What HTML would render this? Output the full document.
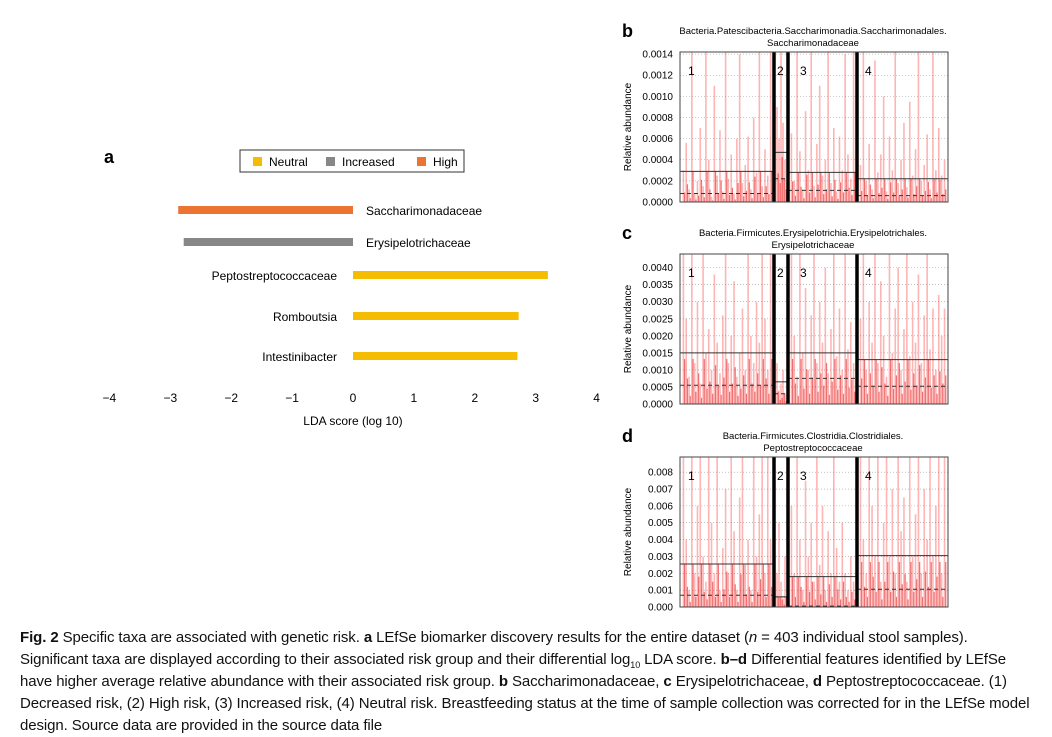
<!DOCTYPE html>
<html><head><meta charset="utf-8"><style>
body{margin:0;width:1052px;height:735px;background:#fff;overflow:hidden;font-family:"Liberation Sans",sans-serif;position:relative}
svg{position:absolute;left:0;top:0}
.cap{position:absolute;left:20px;top:627px;font-size:15px;line-height:22px;color:#111;white-space:nowrap;letter-spacing:-0.1px}
.cap div{height:22px}
</style></head><body>
<svg id="fig" width="1052" height="735"></svg>
<div class="cap">
<div><b>Fig. 2</b> Specific taxa are associated with genetic risk. <b>a</b> LEfSe biomarker discovery results for the entire dataset (<i>n</i> = 403 individual stool samples).</div>
<div>Significant taxa are displayed according to their associated risk group and their differential log<sub style="font-size:9px">10</sub> LDA score. <b>b–d</b> Differential features identified by LEfSe</div>
<div>have higher average relative abundance with their associated risk group. <b>b</b> Saccharimonadaceae, <b>c</b> Erysipelotrichaceae, <b>d</b> Peptostreptococcaceae. (1)</div>
<div>Decreased risk, (2) High risk, (3) Increased risk, (4) Neutral risk. Breastfeeding status at the time of sample collection was corrected for in the LEfSe model</div>
<div>design. Source data are provided in the source data file</div>
</div>
<script>
const NS="http://www.w3.org/2000/svg";
const svg=document.getElementById('fig');
function mk(t,a,p){const e=document.createElementNS(NS,t);for(const k in a)e.setAttribute(k,a[k]);(p||svg).appendChild(e);return e;}
function tx(x,y,s,a,p){const e=mk('text',Object.assign({x:x,y:y,'font-family':'Liberation Sans, sans-serif'},a),p);e.textContent=s;return e;}

// ---- Panel a data ----
const ldaTaxa=["Saccharimonadaceae","Erysipelotrichaceae","Peptostreptococcaceae","Romboutsia","Intestinibacter"];
const ldaScores=[-2.87,-2.78,3.2,2.72,2.7];
const ldaGroups=["High","Increased","Neutral","Neutral","Neutral"];
const ldaTicks=[-4,-3,-2,-1,0,1,2,3,4];
const legendNames=["Neutral","Increased","High"];
const groupColors={Neutral:"#f5bd02",Increased:"#878787",High:"#ec7433"};
const rowY=[210,242,275,316,356];
function xA(v){return 353+v*60.9;}

tx(104,163,"a",{'font-size':18,'font-weight':'bold'});
const lg=mk('g',{});


mk('rect',{x:240,y:150,width:224,height:22,fill:'#fff',stroke:'#333','stroke-width':1},lg);
let lx=253;
legendNames.forEach((n,i)=>{
  const g=mk('g',{},lg);
  
  
  mk('rect',{x:lx,y:157,width:9,height:9,fill:groupColors[n]},g);
  tx(lx+16,166,n,{'font-size':12},g);
  lx+= [73,91,0][i];
});
ldaTaxa.forEach((t,i)=>{
  const v=ldaScores[i];
  const r=mk('rect',{x:Math.min(xA(0),xA(v)),y:rowY[i]-4,width:Math.abs(xA(v)-xA(0)),height:8,fill:groupColors[ldaGroups[i]]});
  
  
  const l=tx(v<0?366:337,rowY[i]+5,t,{'font-size':12,'text-anchor':v<0?'start':'end'});
  
});
ldaTicks.forEach(t=>{
  const l=tx(xA(t),402,t<0?'\u2212'+(-t):String(t),{'font-size':12,'text-anchor':'middle'});
  
});
tx(353,425,"LDA score (log 10)",{'font-size':12,'text-anchor':'middle'});

// ---- Abundance panels data ----
const groupCounts=[32,5,23,30];
const bVals=[30,56,12,142,8,20,70,15,142,40,5,110,25,68,10,142,22,45,8,60,140,18,35,62,12,80,28,142,15,50,25,142, 90,60,142,75,40, 65,20,142,48,12,86,30,142,15,55,110,25,40,142,18,70,10,62,30,140,45,22,142, 35,142,20,55,12,134,28,45,100,10,62,30,142,18,40,75,14,95,25,50,142,20,35,64,12,142,30,70,25,40];
const bMean=[29,47,28,22];
const bMedian=[8,22,11,6];
const cVals=[44,25,8,44,12,30,6,44,15,22,10,38,18,9,26,44,12,20,36,8,15,28,10,44,20,12,30,18,44,25,10,44, 12,4,6,10,3, 44,20,8,44,15,34,10,26,44,12,30,18,40,9,22,44,14,28,10,44,16,24,12, 25,44,10,30,18,44,12,36,20,8,44,15,28,40,10,22,44,14,30,18,38,12,26,44,16,28,10,32,20,28];
const cMean=[15,6.5,15,13];
const cMedian=[5.5,3,7.5,5.2];
const dVals=[8.9,4,1,8.9,2,6,8.9,3,1.5,8.9,5,2,8.9,1,3.5,7,2,8.9,4.5,1,6.5,8.9,2.5,4,1,8.9,3,5.5,8.9,2,8.9,4, 2,5,1.5,0.5,3, 6,2,8.9,4,1,7.5,3,5,1.5,8.9,2.5,6,1,4.5,2,8.9,3.5,1.5,5,2,1,3,1.5, 8.9,4,2,8.9,6,3,8.9,1.5,5,8.9,3,7,2,8.9,4.5,6.5,1.5,8.9,3,5.5,8.9,2,7,4,8.9,3,6,8.9,2,8.9];
const dMean=[2.55,0.6,1.8,3.05];
const dMedian=[0.7,0.6,0.05,1.05];
const bTicks=["0.0000","0.0002","0.0004","0.0006","0.0008","0.0010","0.0012","0.0014"];
const cTicks=["0.0000","0.0005","0.0010","0.0015","0.0020","0.0025","0.0030","0.0035","0.0040"];
const dTicks=["0.000","0.001","0.002","0.003","0.004","0.005","0.006","0.007","0.008"];

const groupEdges=[680,774,788,857,948];
function panel(o){
  const g=mk('g',{});
  
  
  const top=o.top,bot=o.top+150;
  const y=v=>bot-(v/o.max)*(bot-top);
  tx(622,o.top-15,o.id,{'font-size':18,'font-weight':'bold'},g);
  tx(813,o.top-18,o.t1,{'font-size':9.5,'text-anchor':'middle'},g);
  tx(813,o.top-6,o.t2,{'font-size':9.5,'text-anchor':'middle'},g);
  o.ticks.forEach((t,i)=>{
    const v=parseFloat(t)*o.scale;
    mk('line',{x1:680,x2:948,y1:y(v),y2:y(v),stroke:'#999','stroke-dasharray':'1,2','stroke-width':0.6},g);
    const l=tx(673,y(v)+3.5,t,{'font-size':10,'text-anchor':'end'},g);
    
  });
  const yt=tx(0,0,"Relative abundance",{'font-size':10,'text-anchor':'middle',transform:`translate(631,${(top+bot)/2}) rotate(-90)`},g);
  
  let idx=0;
  groupCounts.forEach((n,gi)=>{
    const x0=groupEdges[gi]+2,x1=groupEdges[gi+1]-2;
    for(let k=0;k<n;k++){
      const v=o.vals[idx++];
      const x=x0+(k+0.5)*(x1-x0)/n;
      const s=mk('line',{x1:x,x2:x,y1:bot,y2:y(v),stroke:'rgba(250,60,60,0.38)','stroke-width':1.6},g);
      
      mk('line',{x1:x+1.2,x2:x+1.2,y1:bot,y2:y(Math.min(v*0.3,o.mean[gi])),stroke:'rgba(230,0,0,0.55)','stroke-width':1.2},g);
    }
    mk('line',{x1:groupEdges[gi],x2:groupEdges[gi+1],y1:y(o.mean[gi]),y2:y(o.mean[gi]),stroke:'#333','stroke-width':1},g);
    mk('line',{x1:groupEdges[gi],x2:groupEdges[gi+1],y1:y(o.median[gi]),y2:y(o.median[gi]),stroke:'#333','stroke-width':1,'stroke-dasharray':'4,3'},g);
    tx(groupEdges[gi]+[8,3,12,8][gi],top+23,String(gi+1),{'font-size':12},g);
  });
  [774,788,857].forEach(x=>mk('line',{x1:x,x2:x,y1:top,y2:bot,stroke:'#000','stroke-width':3.5},g));
  mk('rect',{x:680,y:top,width:268,height:150,fill:'none',stroke:'#444','stroke-width':1},g);
}
panel({id:'b',top:52,max:142,scale:1e5,vals:bVals,mean:bMean,median:bMedian,ticks:bTicks,t1:"Bacteria.Patescibacteria.Saccharimonadia.Saccharimonadales.",t2:"Saccharimonadaceae"});
panel({id:'c',top:254,max:44,scale:1e4,vals:cVals,mean:cMean,median:cMedian,ticks:cTicks,t1:"Bacteria.Firmicutes.Erysipelotrichia.Erysipelotrichales.",t2:"Erysipelotrichaceae"});
panel({id:'d',top:457,max:8.9,scale:1e3,vals:dVals,mean:dMean,median:dMedian,ticks:dTicks,t1:"Bacteria.Firmicutes.Clostridia.Clostridiales.",t2:"Peptostreptococcaceae"});
</script>
</body></html>
